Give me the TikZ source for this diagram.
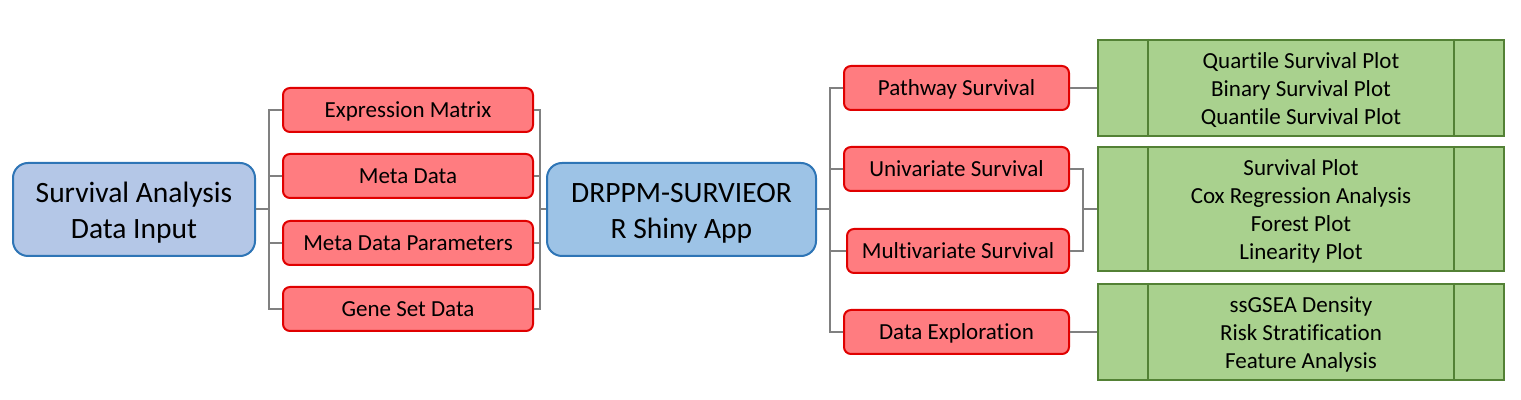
\documentclass[tikz,border=0pt]{standalone}
\usepackage{fontspec}
\setmainfont{Carlito}[Ligatures=NoCommon]
\definecolor{redfill}{HTML}{FF7C80}
\definecolor{redline}{HTML}{E00000}
\definecolor{bluefillA}{HTML}{B4C7E7}
\definecolor{bluefillB}{HTML}{9DC3E6}
\definecolor{blueline}{HTML}{2E75B6}
\definecolor{greenfill}{HTML}{A9D18E}
\definecolor{greenline}{HTML}{538135}
\definecolor{connline}{HTML}{808080}
\newcommand{\bigstrut}{\rule{0pt}{13.8pt}}
\newcommand{\grnstrut}{\rule{0pt}{10.2pt}}
\tikzset{
  bigbox/.style={draw=blueline, line width=1pt, rounded corners=7.5pt, align=center,
    font=\fontsize{14.75}{18}\selectfont, inner sep=0pt},
  redbox/.style={draw=redline, fill=redfill, line width=1pt, rounded corners=3.5pt,
    minimum height=22pt, align=center, font=\fontsize{11.5}{14}\selectfont, inner sep=0pt,
    text height=9.8pt, text depth=2.1pt},
  greenbox/.style={draw=greenline, fill=greenfill, line width=1.2pt, minimum width=203pt,
    align=center, font=\fontsize{11.5}{14}\selectfont, inner sep=0pt},
  conn/.style={draw=connline, line width=1pt},
  inner/.style={draw=greenline, line width=1pt}
}
\begin{document}
\begin{tikzpicture}[x=0.5pt,y=-0.5pt]
\useasboundingbox (0,0) rectangle (1521,400);
% main boxes
\node[bigbox, fill=bluefillA, minimum width=121pt, minimum height=46.5pt] (in1) at (134,209.5) {\bigstrut Survival Analysis\\Data Input};
\node[bigbox, fill=bluefillB, minimum width=134.5pt, minimum height=46.5pt] (app) at (681.5,209.5) {\bigstrut DRPPM-SURVIEOR\\R Shiny App};
% input boxes
\node[redbox, minimum width=125pt] (em) at (408,110) {Expression Matrix};
\node[redbox, minimum width=125pt] (md) at (408,176) {Meta Data};
\node[redbox, minimum width=125pt] (mdp) at (408,243) {Meta Data Parameters};
\node[redbox, minimum width=125pt] (gs) at (408,309) {Gene Set Data};
% module boxes
\node[redbox, minimum width=112.5pt] (pw) at (956.5,88) {Pathway Survival};
\node[redbox, minimum width=112.5pt] (uni) at (956.5,169) {Univariate Survival};
\node[redbox, minimum width=111pt] (mul) at (958,251) {Multivariate Survival};
\node[redbox, minimum width=112.5pt] (de) at (956.5,332) {Data Exploration};
% output boxes
\node[greenbox, minimum height=48pt] (g1) at (1301,88) {\grnstrut Quartile Survival Plot\\Binary Survival Plot\\Quantile Survival Plot};
\node[greenbox, minimum height=62pt] (g2) at (1301,209) {\grnstrut Survival Plot\\Cox Regression Analysis\\Forest Plot\\Linearity Plot};
\node[greenbox, minimum height=48pt] (g3) at (1301,332) {\grnstrut ssGSEA Density\\Risk Stratification\\Feature Analysis};
\foreach \g in {g1,g2,g3}{
  \draw[inner] ([xshift=25.5pt]\g.north west) -- ([xshift=25.5pt]\g.south west);
  \draw[inner] ([xshift=-25.5pt]\g.north east) -- ([xshift=-25.5pt]\g.south east);
}
% connectors
\coordinate (b1) at (269,209.5);
\coordinate (b2) at (539.5,209.5);
\coordinate (b3) at (830,209.5);
\coordinate (b4) at (1083,209);
\draw[conn] (in1.east) -- (b1);
\foreach \n in {em,md,mdp,gs}{
  \draw[conn] (b1) |- (\n.west);
  \draw[conn] (\n.east) -| (b2);
}
\draw[conn] (b2) -- (app.west);
\draw[conn] (app.east) -- (b3);
\foreach \n in {pw,uni,mul,de}{
  \draw[conn] (b3) |- (\n.west);
}
\draw[conn] (pw.east) -- (g1.west);
\draw[conn] (uni.east) -| (b4);
\draw[conn] (mul.east) -| (b4);
\draw[conn] (b4) -- (g2.west);
\draw[conn] (de.east) -- (g3.west);
\end{tikzpicture}
\end{document}
